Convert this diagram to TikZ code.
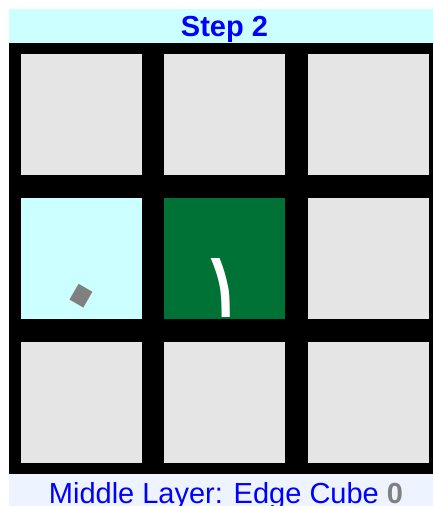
\documentclass[tikz,border=0pt]{standalone}
\usepackage{fontspec}
\setmainfont{Liberation Sans}
\newfontfamily\arabicfont[Script=Arabic]{DejaVu Sans}
\TeXXeTstate=1
\usetikzlibrary{positioning}
\definecolor{headbg}{HTML}{CCFFFF}
\definecolor{footbg}{HTML}{EEF4FF}
\definecolor{cellgray}{HTML}{E5E5E5}
\definecolor{cellcyan}{HTML}{CCFFFF}
\definecolor{cellgreen}{HTML}{007236}
\definecolor{numgray}{HTML}{808080}

\begin{document}
\begin{tikzpicture}[x=1pt, y=-1pt,
    cell/.style={fill=cellgray, minimum size=121pt, inner sep=0pt, anchor=north west},
    band/.style={inner sep=0pt, anchor=base},
  ]
  \useasboundingbox[fill=white] (0,0) rectangle (433,506);

  % Frame
  \fill[headbg] (9,9) rectangle (433,43);
  \fill[black] (9,43) rectangle (433,474);
  \fill[footbg] (9,474) rectangle (433,506);

  % Cells
  \foreach \c/\x in {1/21,2/164,3/308} {
    \foreach \r/\y in {1/54,2/198,3/342} {
      \node[cell] (c\r\c) at (\x,\y) {};
    }
  }
  \node[cell, fill=cellcyan] (c21) at (21,198) {};
  \node[cell, fill=cellgreen] (c22) at (164,198) {};

  % Digits
  \node[band, font=\fontsize{93}{93}\arabicfont, text=white] (one)
    at (223,317) {\beginR ١\endR};
  \node[inner sep=0pt, rotate=-30, font=\fontsize{150}{150}\arabicfont, text=numgray] (zero)
    at (73,310) {\beginR ٠\endR};

  % Titles
  \node[band, font=\fontsize{29}{29}\selectfont\bfseries, text=blue] (title)
    at (224.5,36) {Step 2};
  \node[band, font=\fontsize{29}{29}\selectfont, text=blue] (caption)
    at (226,503) {Middle Layer: Edge Cube \textcolor{numgray}{\bfseries 0}};

\end{tikzpicture}
\end{document}
